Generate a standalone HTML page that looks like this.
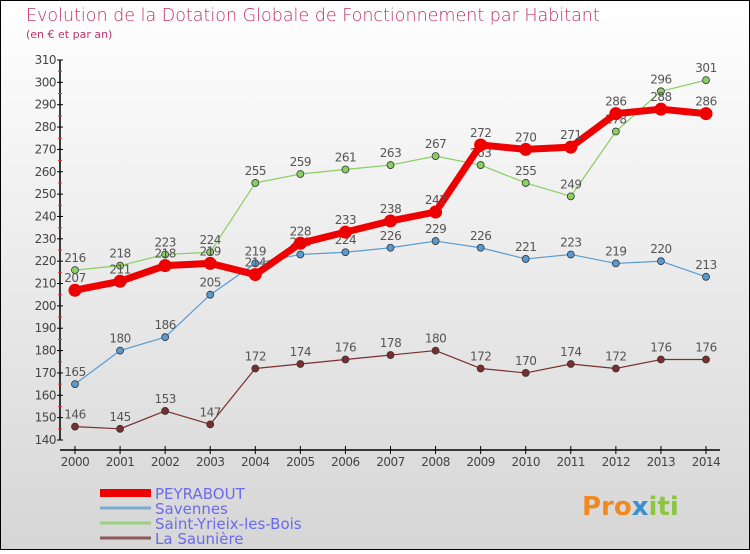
<!DOCTYPE html>
<html><head><meta charset="utf-8"><style>
body{margin:0;width:750px;height:550px;overflow:hidden;font-family:"DejaVu Sans","Liberation Sans",sans-serif}
svg text{font-family:"DejaVu Sans","Liberation Sans",sans-serif}
</style></head><body>
<svg id="chart" width="750" height="550" xmlns="http://www.w3.org/2000/svg">
<defs><linearGradient id="bg" x1="0" y1="0" x2="0" y2="1"><stop offset="0" stop-color="#ffffff"/><stop offset="1" stop-color="#d6d6d6"/></linearGradient></defs>
<rect x="0.5" y="0.5" width="749" height="549" fill="url(#bg)" stroke="#000"/>
<text x="26" y="21" font-size="17.5" fill="#c0306a" font-weight="300">Evolution de la Dotation Globale de Fonctionnement par Habitant</text>
<text x="26" y="38" font-size="11" fill="#c0306a">(en € et par an)</text>
<g id="axes"></g><g id="series"></g><g id="legend"></g>
<text x="582" y="515" font-size="26" font-weight="bold" fill="#f08a20">Pro<tspan fill="#3a8fd0">x</tspan><tspan fill="#8cc63f">iti</tspan></text>
</svg>
<script>
const years=[2000,2001,2002,2003,2004,2005,2006,2007,2008,2009,2010,2011,2012,2013,2014];
const yTicks=[140,150,160,170,180,190,200,210,220,230,240,250,260,270,280,290,300,310];
const peyrabout=[207,211,218,219,214,228,233,238,242,272,270,271,286,288,286];
const savennes=[165,180,186,205,219,223,224,226,229,226,221,223,219,220,213];
const saintYrieix=[216,218,223,224,255,259,261,263,267,263,255,249,278,296,301];
const laSauniere=[146,145,153,147,172,174,176,178,180,172,170,174,172,176,176];
const NS="http://www.w3.org/2000/svg";
const X0=75,X1=706,Y0=440,Y1=60,YMIN=140,YMAX=310;
function xs(i){return X0+(X1-X0)*i/(years.length-1);}
function ys(v){return Y0-(v-YMIN)*(Y0-Y1)/(YMAX-YMIN);}
function mk(t,a,p){const e=document.createElementNS(NS,t);for(const k in a)e.setAttribute(k,a[k]);p.appendChild(e);return e;}
const ax=document.getElementById('axes');
let yl=mk('line',{x1:60,y1:Y1,x2:60,y2:Y0,stroke:'#000','stroke-width':1.5},ax);


let xl=mk('line',{x1:60,y1:450,x2:720,y2:450,stroke:'#000','stroke-width':1.5},ax);


yTicks.forEach(v=>{const y=ys(v);
mk('line',{x1:57,y1:y,x2:63,y2:y,stroke:'#000'},ax);
if(v<YMAX)mk('line',{x1:58,y1:ys(v+5),x2:62,y2:ys(v+5),stroke:'#e03030'},ax);
const t=mk('text',{x:56,y:y+4,'text-anchor':'end','font-size':12,fill:'#444','letter-spacing':'-0.5'},ax);t.textContent=v;

});
years.forEach((yr,i)=>{const x=xs(i);
mk('line',{x1:x,y1:446,x2:x,y2:454,stroke:'#000'},ax);
const t=mk('text',{x:x,y:466,'text-anchor':'middle','font-size':12,fill:'#444','letter-spacing':'-0.5'},ax);t.textContent=yr;

});
const sg=document.getElementById('series');
function series(data,color,w,r,name){
const g=mk('g',{},sg);


mk('polyline',{points:data.map((v,i)=>xs(i)+','+ys(v)).join(' '),fill:'none',stroke:color,'stroke-width':w,'stroke-linejoin':'round'},g);
data.forEach((v,i)=>{const c=mk('circle',{cx:xs(i),cy:ys(v),r:r,fill:color,stroke:'#333','stroke-width':r>5?0:0.8},g);


const t=mk('text',{x:xs(i),y:ys(v)-8,'text-anchor':'middle','font-size':12,fill:'#555','letter-spacing':'-0.5'},g);t.textContent=v;});}
series(laSauniere,'#7a2e2e',1.2,3.5,'series-la-sauniere');
series(savennes,'#5a9ad0',1.2,3.5,'series-savennes');
series(saintYrieix,'#88d060',1.2,3.5,'series-saint-yrieix');
series(peyrabout,'#ee0000',7,6.5,'series-peyrabout');
const lg=document.getElementById('legend');
const items=[['PEYRABOUT','#ee0000',8],['Savennes','#7aaad0',3],['Saint-Yrieix-les-Bois','#9ad080',3],['La Saunière','#8a5a5a',3]];
items.forEach((it,i)=>{const y=493+i*15;
const l=mk('line',{x1:100,y1:y,x2:151,y2:y,stroke:it[1],'stroke-width':it[2]},lg);


const t=mk('text',{x:155,y:y+6,'font-size':15,fill:'#6a6aee'},lg);t.textContent=it[0];

});
</script>
</body></html>
